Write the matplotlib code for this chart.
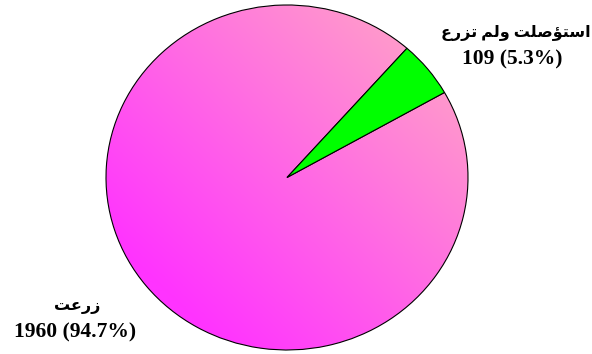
import numpy as np
import matplotlib
matplotlib.use("Agg")
import matplotlib.pyplot as plt
from matplotlib.colors import LinearSegmentedColormap

# data
labels = ["زرعت", "استؤصلت ولم تزرع"]
values = [1960, 109]
colors = ["#ff33ff", "#00ff00"]

# arabic letters -> (isolated, final, initial, medial) presentation forms
forms = {
    "ا": ("\uFE8D", "\uFE8E", None, None),
    "ؤ": ("\uFE85", "\uFE86", None, None),
    "و": ("\uFEED", "\uFEEE", None, None),
    "ز": ("\uFEAF", "\uFEB0", None, None),
    "ر": ("\uFEAD", "\uFEAE", None, None),
    "س": ("\uFEB1", "\uFEB2", "\uFEB3", "\uFEB4"),
    "ت": ("\uFE95", "\uFE96", "\uFE97", "\uFE98"),
    "ص": ("\uFEB9", "\uFEBA", "\uFEBB", "\uFEBC"),
    "ل": ("\uFEDD", "\uFEDE", "\uFEDF", "\uFEE0"),
    "م": ("\uFEE1", "\uFEE2", "\uFEE3", "\uFEE4"),
    "ع": ("\uFEC9", "\uFECA", "\uFECB", "\uFECC"),
}


def shape(s):
    out = []
    for i, ch in enumerate(s):
        if ch not in forms:
            out.append(ch)
            continue
        prev = s[i - 1] if i > 0 else ""
        nxt = s[i + 1] if i < len(s) - 1 else ""
        jp = prev in forms and forms[prev][2] is not None
        jn = forms[ch][2] is not None and nxt in forms
        iso, fin, ini, med = forms[ch]
        if jp and jn:
            out.append(med)
        elif jp:
            out.append(fin)
        elif jn:
            out.append(ini)
        else:
            out.append(iso)
    return "".join(out[::-1])


fig = plt.figure(figsize=(5.92, 3.54), dpi=100)
ax = fig.add_axes([106 / 592, 4 / 354, 362 / 592, 345 / 354])

wedges, _ = ax.pie(values, colors=colors, startangle=48.5, radius=1,
                   wedgeprops=dict(edgecolor="black", linewidth=0.8))
ax.set_aspect("auto")
ax.set_xlim(-1, 1)
ax.set_ylim(-1, 1)

# gradient fill for the big slice
cmap = LinearSegmentedColormap.from_list("pk", ["#ff33ff", "#ff99cc"])
xx, yy = np.meshgrid(np.linspace(-1, 1, 300), np.linspace(-1, 1, 300))
grad = (xx + yy) / np.sqrt(2)
wedges[0].set_facecolor("none")
im = ax.imshow(grad, extent=[-1, 1, -1, 1], origin="lower", cmap=cmap,
               vmin=-0.95, vmax=1.0, zorder=0.5, aspect="auto")
im.set_clip_path(wedges[0])

total = sum(values)
fam = ["Liberation Serif", "DejaVu Sans"]
nums = [f"{v} ({v / total * 100:.1f}%)" for v in values]

# bottom-left label (big slice)
fig.text(77 / 592, 1 - 306 / 354, shape(labels[0]), ha="center", va="center",
         fontsize=11.5, fontweight="bold", family=fam)
fig.text(75 / 592, 1 - 332 / 354, nums[0], ha="center", va="center",
         fontsize=15.5, fontweight="bold", family=fam)

# top-right label (small slice)
fig.text(516 / 592, 1 - 33 / 354, shape(labels[1]), ha="center", va="center",
         fontsize=11.5, fontweight="bold", family=fam)
fig.text(512 / 592, 1 - 59 / 354, nums[1], ha="center", va="center",
         fontsize=15.5, fontweight="bold", family=fam)

fig.savefig("out.png", dpi=100)
